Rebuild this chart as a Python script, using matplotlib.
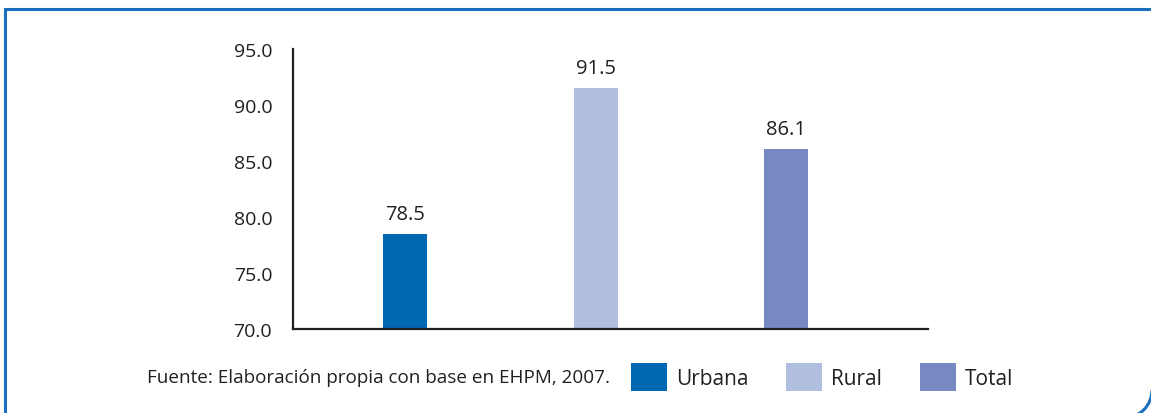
import matplotlib
matplotlib.use("Agg")
import matplotlib.pyplot as plt
from matplotlib.patches import Patch, Arc
from matplotlib.lines import Line2D
from matplotlib.transforms import IdentityTransform

plt.rcParams['font.family'] = ['Open Sans', 'DejaVu Sans']

categories = ["Urbana", "Rural", "Total"]
values = [78.5, 91.5, 86.1]
colors = ["#0067B2", "#B0BFDF", "#7689C3"]
yticks = [70, 75, 80, 85, 90, 95]
source = "Fuente: Elaboración propia con base en EHPM, 2007."

W, H = 1151, 414
fig = plt.figure(figsize=(W / 100, H / 100), dpi=100)
ax = fig.add_axes([293 / W, 1 - 330 / H, (928 - 293) / W, (330 - 50) / H])

x = list(range(len(categories)))
bars = ax.bar(x, values, width=0.23, color=colors, bottom=0)
for b, v in zip(bars, values):
    ax.annotate(f"{v:.1f}", (b.get_x() + b.get_width() / 2, v),
                xytext=(0, 7), textcoords="offset points",
                ha="center", va="bottom", fontsize=14.5, color="#231F20")

ax.set_ylim(70, 95)
ax.set_xlim(-0.59, 2.745)
ax.set_yticks(yticks)
ax.set_yticklabels([f"{t:.1f}" for t in yticks], fontsize=14, color="#231F20")
ax.tick_params(axis="y", length=0, pad=15)
ax.set_xticks([])
for s in ("top", "right"):
    ax.spines[s].set_visible(False)
for s in ("left", "bottom"):
    ax.spines[s].set_linewidth(1.6)
    ax.spines[s].set_color("#231F20")

# source note and legend
fig.text(147 / W, 1 - 378 / H, source, fontsize=13.6, color="#231F20",
         ha="left", va="center")
handles = [Patch(facecolor=c, edgecolor="none") for c in colors]
fig.legend(handles, categories, loc="center left",
           bbox_to_anchor=(621 / W, 1 - 378 / H), ncol=3, frameon=False,
           fontsize=15, handlelength=1.73, handleheight=1.73,
           handletextpad=0.43, columnspacing=1.8, borderpad=0,
           labelcolor="#231F20")

# blue frame: square top-left, rounded bottom-right (pixel coords, y up)
blue = "#1A6FBF"
ident = IdentityTransform()
fig.add_artist(Line2D([5, 5, 1160], [-10, H - 10, H - 10], transform=ident,
                      color=blue, linewidth=2.2, solid_joinstyle="miter"))
fig.add_artist(Arc((1124, 23), 56, 56, theta1=270, theta2=360,
                   transform=ident, color=blue, linewidth=2.2))

fig.savefig("out.png", dpi=100)
